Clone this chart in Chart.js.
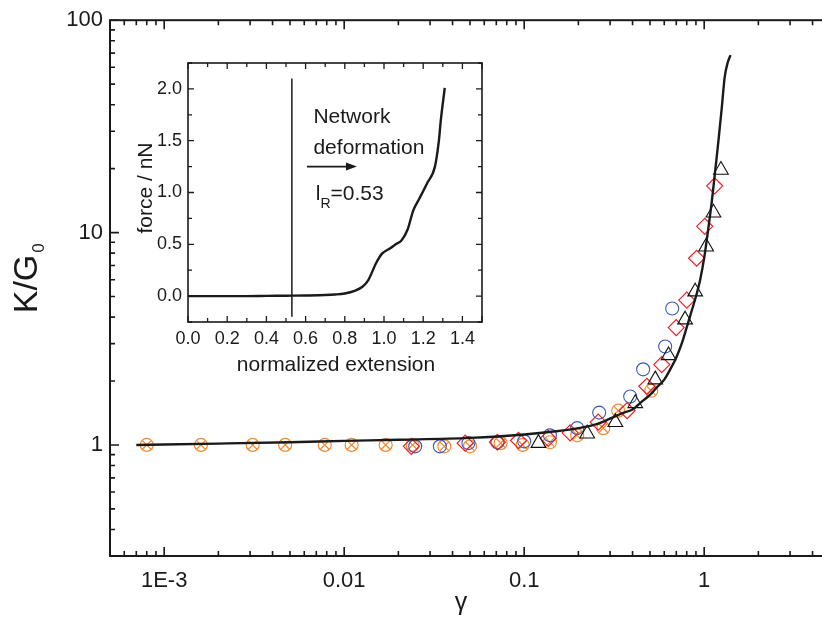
<!DOCTYPE html>
<html>
<head>
<meta charset="utf-8">
<script src="https://cdn.jsdelivr.net/npm/chart.js@4/dist/chart.umd.min.js"></script>
<style>
  html, body { margin: 0; padding: 0; background: #fff; overflow: hidden; }
  #wrap { position: relative; width: 822px; height: 623px; overflow: hidden; }
  #main { position: absolute; left: 0; top: 0; }
  #inset { position: absolute; left: 110px; top: 40px; }
</style>
</head>
<body>
<div id="wrap">
  <canvas id="main" width="842" height="623"></canvas>
  <canvas id="inset" width="390" height="350"></canvas>
</div>
<script>
const FONT = "'Liberation Sans', Arial, Helvetica, sans-serif";
const INK = '#1a1a1a';

// ---- main panel: K/G0 against strain amplitude gamma ----
const gammaModel = [0.0007, 0.002, 0.005, 0.01, 0.02, 0.05, 0.1, 0.15, 0.2, 0.25, 0.3, 0.35, 0.4, 0.45,
                    0.5, 0.55, 0.6, 0.65, 0.7, 0.75, 0.8, 0.85, 0.9, 0.95, 1.0, 1.05, 1.1, 1.15, 1.2,
                    1.25, 1.3, 1.35, 1.4];
const kModel = [1.0, 1.015, 1.03, 1.045, 1.058, 1.08, 1.12, 1.16, 1.2, 1.25, 1.33, 1.41, 1.47, 1.6,
                1.72, 1.88, 2.03, 2.28, 2.58, 3.0, 3.58, 4.25, 5.0, 6.0, 7.6, 10.2, 13.8, 19.4, 27,
                38, 54, 63, 68.5];

const gammaOrange = [0.0008, 0.0016, 0.0031, 0.0047, 0.0078, 0.011, 0.017, 0.024, 0.036, 0.050, 0.074,
                     0.098, 0.139, 0.197, 0.275, 0.333, 0.508];
const kOrange = [1.0, 1.0, 1.0, 1.0, 1.0, 1.0, 1.0, 1.0, 0.985, 0.985, 1.02, 1.0, 1.03, 1.11, 1.2, 1.45, 1.8];

const gammaBlue = [0.0248, 0.034, 0.049, 0.071, 0.10, 0.139, 0.197, 0.261, 0.388, 0.458, 0.607, 0.664];
const kBlue = [0.985, 0.985, 1.02, 1.03, 1.04, 1.11, 1.2, 1.42, 1.69, 2.27, 2.91, 4.39];

const gammaRed = [0.0236, 0.047, 0.071, 0.093, 0.136, 0.18, 0.258, 0.373, 0.48, 0.581, 0.699, 0.80,
                  0.908, 1.007, 1.143];
const kRed = [0.985, 1.02, 1.03, 1.05, 1.074, 1.14, 1.28, 1.45, 1.89, 2.39, 3.57, 4.81, 7.57, 10.7, 16.6];

const gammaBlack = [0.12, 0.224, 0.321, 0.414, 0.535, 0.634, 0.783, 0.891, 1.026, 1.126, 1.239];
const kBlack = [1.02, 1.13, 1.28, 1.57, 2.03, 2.64, 3.89, 5.27, 8.58, 12.4, 19.7];

const gammaMajorTicks = [0.001, 0.01, 0.1, 1];
const gammaTickLabels = ['1E-3', '0.01', '0.1', '1'];
const kMajorTicks = [1, 10, 100];
const kTickLabels = ['1', '10', '100'];

// ---- inset: force-extension trace ----
const extension = [0, 0.1, 0.2, 0.3, 0.4, 0.5, 0.6, 0.7, 0.75, 0.8, 0.85, 0.89, 0.92, 0.96, 0.99, 1.03,
                   1.06, 1.09, 1.12, 1.15, 1.18, 1.22, 1.26, 1.28, 1.29, 1.31];
const force = [0, 0, 0, 0, 0.002, 0.004, 0.006, 0.01, 0.015, 0.025, 0.05, 0.09, 0.155, 0.32, 0.41, 0.46,
               0.5, 0.54, 0.64, 0.83, 0.94, 1.09, 1.25, 1.5, 1.7, 2.01];
const extensionMajorTicks = [0, 0.2, 0.4, 0.6, 0.8, 1.0, 1.2, 1.4];
const extensionTickLabels = ['0.0', '0.2', '0.4', '0.6', '0.8', '1.0', '1.2', '1.4'];
const forceMajorTicks = [0, 0.5, 1.0, 1.5, 2.0];
const forceTickLabels = ['0.0', '0.5', '1.0', '1.5', '2.0'];
const lR = 0.53;

const pts = (xs, ys) => xs.map((x, i) => ({ x, y: ys[i] }));
const near = (a, b) => Math.abs(a - b) < 1e-9 * Math.max(1, Math.abs(b));
const labelFor = (v, majors, labels) => {
  const i = majors.findIndex(m => near(v, m));
  return i < 0 ? '' : labels[i];
};

// 1..9 x 10^n ticks between min and max
function logTicks(min, max) {
  const out = [];
  for (let e = Math.floor(Math.log10(min)) - 1; e <= Math.ceil(Math.log10(max)); e++) {
    for (let m = 1; m <= 9; m++) {
      const v = Number((m * Math.pow(10, e)).toPrecision(6));
      if (v >= min * 0.9999 && v <= max * 1.0001) out.push({ value: v });
    }
  }
  return out;
}
function stepTicks(min, max, step) {
  const out = [];
  const n0 = Math.ceil(min / step - 1e-9), n1 = Math.floor(max / step + 1e-9);
  for (let n = n0; n <= n1; n++) out.push({ value: Number((n * step).toFixed(6)) });
  return out;
}

// frame plus inward tick marks, drawn from the scales' own ticks
const frameTicks = {
  id: 'frameTicks',
  afterDatasetsDraw(chart, _args, o) {
    const { ctx, chartArea: a } = chart;
    const sx = chart.scales.x, sy = chart.scales.y;
    ctx.save();
    ctx.strokeStyle = INK;
    ctx.lineWidth = o.frameWidth;
    ctx.strokeRect(a.left, a.top, a.right - a.left, a.bottom - a.top);
    ctx.lineWidth = o.tickWidth;
    ctx.beginPath();
    for (const t of sx.ticks) {
      const p = sx.getPixelForValue(t.value);
      const L = o.isMajorX(t.value) ? o.major : o.minor;
      ctx.moveTo(p, a.bottom); ctx.lineTo(p, a.bottom - L);
      ctx.moveTo(p, a.top); ctx.lineTo(p, a.top + L);
    }
    for (const t of sy.ticks) {
      const p = sy.getPixelForValue(t.value);
      const L = o.isMajorY(t.value) ? o.major : o.minor;
      ctx.moveTo(a.left, p); ctx.lineTo(a.left + L, p);
      if (o.rightTicks) { ctx.moveTo(a.right, p); ctx.lineTo(a.right - L, p); }
    }
    ctx.stroke();
    ctx.restore();
  }
};

const isDecade = v => near(Math.log10(v), Math.round(Math.log10(v)));

// axis titles of the main panel
const mainTitles = {
  id: 'mainTitles',
  afterDraw(chart) {
    const { ctx } = chart;
    ctx.save();
    ctx.fillStyle = INK;
    ctx.textBaseline = 'middle';
    ctx.textAlign = 'center';
    ctx.font = `25px ${FONT}`;
    ctx.fillText('\u03b3', 461, 603);
    ctx.translate(28, 278);
    ctx.rotate(-Math.PI / 2);
    ctx.font = `34px ${FONT}`;
    const w = ctx.measureText('K/G').width;
    ctx.textAlign = 'left';
    ctx.fillText('K/G', -w / 2 - 6, 0);
    ctx.font = `17px ${FONT}`;
    ctx.fillText('0', w / 2 - 4, 11);
    ctx.restore();
  }
};

new Chart(document.getElementById('main'), {
  type: 'scatter',
  data: {
    datasets: [
      { label: 'model', data: pts(gammaModel, kModel), showLine: true, borderColor: INK, borderWidth: 2.4,
        pointRadius: 0, cubicInterpolationMode: 'monotone', order: 0 },
      { label: 'set 4', data: pts(gammaBlack, kBlack), pointStyle: 'triangle', pointRadius: 8.5,
        borderColor: '#111', borderWidth: 1.1, backgroundColor: 'rgba(0,0,0,0)', order: 1 },
      { label: 'set 3', data: pts(gammaRed, kRed), pointStyle: 'rectRot', pointRadius: 8,
        borderColor: '#ec2028', borderWidth: 1.2, backgroundColor: 'rgba(0,0,0,0)', order: 2 },
      { label: 'set 2', data: pts(gammaBlue, kBlue), pointStyle: 'circle', pointRadius: 6.5,
        borderColor: '#3d55c0', borderWidth: 1.1, backgroundColor: 'rgba(0,0,0,0)', order: 3 },
      { label: 'set 1', data: pts(gammaOrange, kOrange), pointStyle: 'circle', pointRadius: 6.5,
        borderColor: '#f28a30', borderWidth: 1.2, backgroundColor: 'rgba(0,0,0,0)', order: 4 },
      { label: 'set 1 cross', data: pts(gammaOrange, kOrange), pointStyle: 'crossRot', pointRadius: 6.5,
        borderColor: '#f28a30', borderWidth: 1.2, backgroundColor: 'rgba(0,0,0,0)', order: 4 }
    ]
  },
  options: {
    responsive: false, animation: false, devicePixelRatio: 1,
    layout: { padding: { top: 19, right: 0, bottom: 0, left: 0 } },
    plugins: { legend: { display: false }, tooltip: { enabled: false },
      frameTicks: { frameWidth: 2, tickWidth: 1.6, major: 9, minor: 5, rightTicks: false,
        isMajorX: isDecade, isMajorY: isDecade } },
    scales: {
      x: {
        type: 'logarithmic', min: 5e-4, max: 5,
        grid: { display: false, drawTicks: false }, border: { display: false },
        afterBuildTicks: s => { s.ticks = logTicks(5e-4, 5); },
        afterFit: s => { s.height = 67; },
        ticks: { autoSkip: false, maxRotation: 0, minRotation: 0, padding: 12, color: INK,
          font: { family: FONT, size: 22 }, callback: v => labelFor(v, gammaMajorTicks, gammaTickLabels) }
      },
      y: {
        type: 'logarithmic', min: 0.3, max: 100,
        grid: { display: false, drawTicks: false }, border: { display: false },
        afterBuildTicks: s => { s.ticks = logTicks(0.3, 100); },
        afterFit: s => { s.width = 110; },
        ticks: { autoSkip: false, padding: 7, color: INK,
          font: { family: FONT, size: 22 }, callback: v => labelFor(v, kMajorTicks, kTickLabels) }
      }
    }
  },
  plugins: [frameTicks, mainTitles]
});

// notes and axis titles inside the inset
const insetNotes = {
  id: 'insetNotes',
  afterDraw(chart) {
    const { ctx } = chart;
    const sx = chart.scales.x, sy = chart.scales.y;
    const X = v => sx.getPixelForValue(v), Y = v => sy.getPixelForValue(v);
    ctx.save();
    ctx.fillStyle = INK;
    ctx.strokeStyle = INK;
    ctx.textBaseline = 'middle';
    ctx.textAlign = 'left';
    ctx.font = `21px ${FONT}`;
    ctx.fillText('Network', X(0.64), Y(1.73));
    ctx.fillText('deformation', X(0.64), Y(1.43));
    // arrow
    const ay = Y(1.25), ax0 = X(0.607), ax1 = X(0.862);
    ctx.lineWidth = 1.6;
    ctx.beginPath(); ctx.moveTo(ax0, ay); ctx.lineTo(ax1 - 8, ay); ctx.stroke();
    ctx.beginPath(); ctx.moveTo(ax1, ay); ctx.lineTo(ax1 - 11, ay - 4); ctx.lineTo(ax1 - 11, ay + 4);
    ctx.closePath(); ctx.fill();
    // l_R = 0.53
    const lx = X(0.652), ly = Y(0.98);
    ctx.fillText('l', lx, ly);
    const lw = ctx.measureText('l').width;
    ctx.font = `14px ${FONT}`;
    ctx.fillText('R', lx + lw, ly + 10);
    const rw = ctx.measureText('R').width;
    ctx.font = `21px ${FONT}`;
    ctx.fillText('=' + lR.toFixed(2), lx + lw + rw, ly);
    // axis titles
    ctx.textAlign = 'center';
    ctx.fillText('normalized extension', 226, 325);
    ctx.translate(36, 148);
    ctx.rotate(-Math.PI / 2);
    ctx.fillText('force / nN', 0, 0);
    ctx.restore();
  }
};

new Chart(document.getElementById('inset'), {
  type: 'scatter',
  data: {
    datasets: [
      { label: 'trace', data: pts(extension, force), showLine: true, borderColor: INK, borderWidth: 2.4,
        pointRadius: 0, cubicInterpolationMode: 'monotone' },
      { label: 'lR', data: [{ x: lR, y: -0.2 }, { x: lR, y: 2.1 }], showLine: true, borderColor: INK,
        borderWidth: 1.5, pointRadius: 0 }
    ]
  },
  options: {
    responsive: false, animation: false, devicePixelRatio: 1,
    layout: { padding: { top: 23, right: 18, bottom: 0, left: 0 } },
    plugins: { legend: { display: false }, tooltip: { enabled: false },
      frameTicks: { frameWidth: 1.6, tickWidth: 1.3, major: 6, minor: 4, rightTicks: true,
        isMajorX: v => extensionMajorTicks.some(m => near(v, m)) || near(v, 1.5),
        isMajorY: v => forceMajorTicks.some(m => near(v, m)) } },
    scales: {
      x: {
        type: 'linear', min: 0, max: 1.5,
        grid: { display: false, drawTicks: false }, border: { display: false },
        afterBuildTicks: s => { s.ticks = stepTicks(0, 1.5, 0.1); },
        afterFit: s => { s.height = 68; },
        ticks: { autoSkip: false, maxRotation: 0, minRotation: 0, padding: 6, color: INK,
          font: { family: FONT, size: 18 }, callback: v => labelFor(v, extensionMajorTicks, extensionTickLabels) }
      },
      y: {
        type: 'linear', min: -0.25, max: 2.25,
        grid: { display: false, drawTicks: false }, border: { display: false },
        afterBuildTicks: s => { s.ticks = stepTicks(-0.25, 2.25, 0.25); },
        afterFit: s => { s.width = 78; },
        ticks: { autoSkip: false, padding: 6, color: INK,
          font: { family: FONT, size: 18 }, callback: v => labelFor(v, forceMajorTicks, forceTickLabels) }
      }
    }
  },
  plugins: [frameTicks, insetNotes]
});
</script>
</body>
</html>
